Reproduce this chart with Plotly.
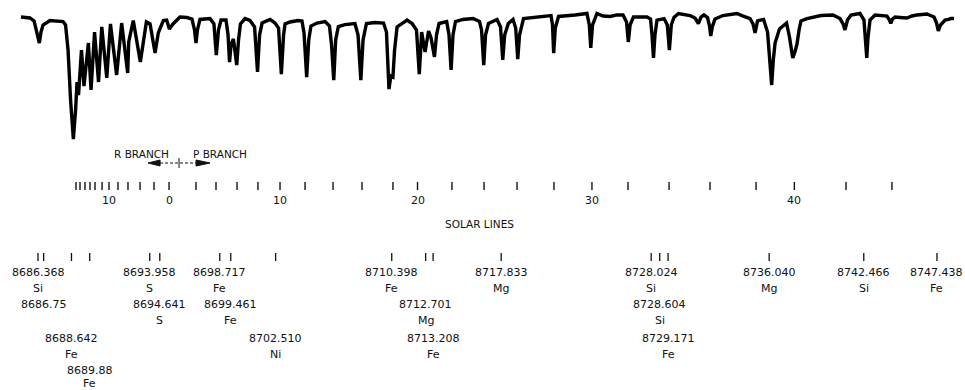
import plotly.graph_objects as go

# ---------------------------------------------------------------------------
# Tracing of the spectrum: wavelength (Å) and relative intensity
# ---------------------------------------------------------------------------
WAVELENGTH = [
    8685.21, 8685.82, 8686.10, 8686.30, 8686.46, 8686.57, 8686.71, 8687.18, 8687.66, 8688.07,
    8688.24, 8688.41, 8688.58, 8688.77, 8688.92, 8689.02, 8689.12, 8689.32, 8689.49, 8689.79,
    8689.97, 8690.21, 8690.48, 8690.70, 8691.04, 8691.29, 8691.71, 8692.05, 8692.46, 8692.53,
    8692.84, 8693.32, 8693.73, 8693.98, 8694.32, 8694.54, 8694.88, 8695.11, 8695.29, 8695.54,
    8696.01, 8696.49, 8696.83, 8697.00, 8697.10, 8697.20, 8697.37, 8698.05, 8698.32, 8698.48,
    8698.63, 8698.80, 8699.14, 8699.28, 8699.38, 8699.48, 8699.64, 8699.87, 8699.99, 8700.12,
    8700.43, 8700.77, 8701.08, 8701.28, 8701.42, 8701.59, 8702.13, 8702.47, 8702.71, 8702.90,
    8703.05, 8703.15, 8703.49, 8704.03, 8704.30, 8704.44, 8704.62, 8704.76, 8704.91, 8705.32,
    8705.87, 8706.17, 8706.31, 8706.46, 8706.59, 8706.77, 8707.22, 8707.90, 8708.11, 8708.30,
    8708.45, 8708.68, 8709.26, 8709.84, 8710.04, 8710.21, 8710.34, 8710.48, 8710.59, 8710.76,
    8711.44, 8711.78, 8712.08, 8712.27, 8712.43, 8712.66, 8712.90, 8713.07, 8713.30, 8713.44,
    8713.61, 8714.13, 8714.29, 8714.43, 8714.56, 8714.73, 8715.24, 8715.92, 8716.36, 8716.50,
    8716.65, 8716.77, 8716.97, 8717.55, 8717.79, 8717.94, 8718.07, 8718.32, 8718.64, 8718.82,
    8718.96, 8719.08, 8719.35, 8720.47, 8721.22, 8721.32, 8721.40, 8721.51, 8721.73, 8722.85,
    8723.66, 8723.82, 8723.92, 8724.04, 8724.34, 8724.75, 8725.23, 8725.70, 8726.11, 8726.35,
    8726.47, 8726.59, 8726.82, 8727.74, 8727.98, 8728.08, 8728.18, 8728.28, 8728.42, 8728.90,
    8729.12, 8729.26, 8729.39, 8729.57, 8729.88, 8730.66, 8731.00, 8731.23, 8731.41, 8731.61,
    8731.85, 8731.99, 8732.07, 8732.19, 8732.36, 8732.90, 8733.51, 8733.85, 8734.19, 8734.74,
    8734.94, 8735.08, 8735.25, 8735.66, 8735.93, 8736.06, 8736.21, 8736.32, 8736.44, 8736.74,
    8737.22, 8737.42, 8737.64, 8737.79, 8737.93, 8738.07, 8738.20, 8738.61, 8739.15, 8739.56,
    8740.38, 8740.85, 8741.06, 8741.19, 8741.36, 8741.60, 8742.21, 8742.48, 8742.57, 8742.67,
    8742.75, 8742.89, 8743.23, 8743.71, 8744.04, 8744.21, 8744.30, 8744.42, 8744.59, 8744.93,
    8745.40, 8745.74, 8746.08, 8746.76, 8747.24, 8747.41, 8747.53, 8747.68, 8747.78, 8747.99,
    8748.22, 8748.39, 8748.60,
]
INTENSITY = [
    0.953, 0.947, 0.927, 0.847, 0.780, 0.853, 0.900, 0.930, 0.927, 0.923,
    0.900, 0.733, 0.400, 0.140, 0.333, 0.520, 0.433, 0.733, 0.493, 0.780,
    0.467, 0.853, 0.520, 0.887, 0.547, 0.907, 0.567, 0.913, 0.580, 0.787,
    0.930, 0.653, 0.920, 0.907, 0.713, 0.847, 0.930, 0.933, 0.873, 0.907,
    0.953, 0.950, 0.940, 0.867, 0.780, 0.867, 0.937, 0.943, 0.907, 0.700,
    0.867, 0.933, 0.933, 0.833, 0.653, 0.767, 0.807, 0.633, 0.800, 0.907,
    0.943, 0.930, 0.887, 0.587, 0.833, 0.913, 0.937, 0.913, 0.880, 0.573,
    0.833, 0.907, 0.920, 0.930, 0.927, 0.847, 0.553, 0.800, 0.893, 0.913,
    0.923, 0.893, 0.767, 0.533, 0.800, 0.890, 0.903, 0.910, 0.833, 0.533,
    0.800, 0.910, 0.917, 0.913, 0.853, 0.473, 0.560, 0.553, 0.733, 0.887,
    0.933, 0.910, 0.867, 0.573, 0.853, 0.720, 0.860, 0.813, 0.687, 0.833,
    0.910, 0.923, 0.833, 0.600, 0.833, 0.923, 0.937, 0.943, 0.923, 0.867,
    0.633, 0.833, 0.910, 0.937, 0.887, 0.667, 0.833, 0.910, 0.937, 0.880,
    0.673, 0.833, 0.943, 0.957, 0.963, 0.900, 0.713, 0.880, 0.957, 0.967,
    0.977, 0.900, 0.747, 0.900, 0.977, 0.960, 0.957, 0.967, 0.967, 0.920,
    0.787, 0.900, 0.953, 0.953, 0.940, 0.833, 0.680, 0.833, 0.933, 0.943,
    0.900, 0.733, 0.900, 0.950, 0.977, 0.963, 0.947, 0.910, 0.953, 0.967,
    0.950, 0.893, 0.827, 0.893, 0.940, 0.963, 0.973, 0.977, 0.963, 0.943,
    0.907, 0.847, 0.927, 0.937, 0.853, 0.700, 0.500, 0.667, 0.780, 0.873,
    0.913, 0.820, 0.680, 0.720, 0.773, 0.867, 0.927, 0.943, 0.957, 0.963,
    0.967, 0.943, 0.907, 0.867, 0.933, 0.967, 0.977, 0.933, 0.813, 0.680,
    0.813, 0.933, 0.967, 0.963, 0.960, 0.933, 0.910, 0.940, 0.953, 0.950,
    0.947, 0.960, 0.967, 0.973, 0.953, 0.913, 0.860, 0.900, 0.913, 0.933,
    0.937, 0.943, 0.943,
]

# ---------------------------------------------------------------------------
# Rotational lines of the band (every second line is marked)
# ---------------------------------------------------------------------------
R_BRANCH_N = [22, 20, 18, 16, 14, 12, 10, 8, 6, 4, 2, 0]
R_BRANCH_WL = [8688.95, 8689.22, 8689.56, 8689.90, 8690.24, 8690.72,
               8691.19, 8691.80, 8692.48, 8693.30, 8694.25, 8695.27]
P_BRANCH_N = [2, 4, 6, 8, 10, 12, 14, 16, 18, 20, 22,
              24, 26, 28, 30, 32, 34, 36, 38, 40, 42, 44]
P_BRANCH_WL = [8697.10, 8698.46, 8699.89, 8701.31, 8702.81, 8704.51, 8706.41,
               8708.38, 8710.48, 8712.15, 8714.49, 8716.67, 8718.91, 8721.42,
               8724.00, 8726.45, 8729.24, 8732.02, 8735.15, 8737.75, 8741.26,
               8744.38]
R_BRANCH_NUMBERED = [10, 0]
P_BRANCH_NUMBERED = [10, 20, 30, 40]
BAND_ORIGIN = 8695.95

# ---------------------------------------------------------------------------
# Identified solar lines
# ---------------------------------------------------------------------------
SOLAR_LABELS = ["8686.368", "8686.75", "8688.642", "8689.88", "8693.958",
                "8694.641", "8698.717", "8699.461", "8702.510", "8710.398",
                "8712.701", "8713.208", "8717.833", "8728.024", "8728.604",
                "8729.171", "8736.040", "8742.466", "8747.438"]
SOLAR_ELEMENTS = ["Si", "", "Fe", "Fe", "S",
                  "S", "Fe", "Fe", "Ni", "Fe",
                  "Mg", "Fe", "Mg", "Si", "Si",
                  "Fe", "Mg", "Si", "Fe"]

# ---------------------------------------------------------------------------
# Layout
# ---------------------------------------------------------------------------
W, H = 965, 390
X_RANGE = [8683.786, 8749.343]
Y_RANGE = [-1.5333, 1.0667]
LABEL_TIER = [0, 1, 2, 3, 0, 1, 0, 1, 2, 0, 1, 2, 0, 0, 1, 2, 0, 0, 0]
TIER_PX = [272, 304, 338, 370]       # wavelength text rows
ELEMENT_PX = [288, 320, 354, 383]    # element text rows
FONT = "DejaVu Sans"
INK = "#111111"


def py(px):
    """Vertical pixel position -> paper fraction."""
    return 1 - px / H


def text(x, y, s, xref="x", size=11, xshift=0):
    return dict(x=x, y=y, xref=xref, yref="paper", text=s, showarrow=False,
                xanchor="center", yanchor="middle", xshift=xshift,
                font=dict(family=FONT, size=size, color=INK))


fig = go.Figure()
fig.add_trace(go.Scatter(
    x=WAVELENGTH, y=INTENSITY, mode="lines",
    line=dict(color="black", width=3.4),
    hoverinfo="skip", showlegend=False,
))

shapes = []
annotations = []

# band scale ticks and numbers
for numbers, wls, numbered in ((R_BRANCH_N, R_BRANCH_WL, R_BRANCH_NUMBERED),
                               (P_BRANCH_N, P_BRANCH_WL, P_BRANCH_NUMBERED)):
    for n, wl in zip(numbers, wls):
        shapes.append(dict(type="line", xref="x", yref="paper", x0=wl, x1=wl,
                           y0=py(190), y1=py(182), line=dict(color=INK, width=1.4)))
        if n in numbered:
            annotations.append(text(wl, py(201), str(n)))

annotations.append(text(0.4964, py(224), "SOLAR LINES", xref="paper", size=10.5))

# branch arrow around the band origin
ay = py(163)
arrow_common = dict(xref="x", yref="paper", xsizemode="pixel", ysizemode="pixel",
                    xanchor=BAND_ORIGIN, yanchor=ay)
shapes.append(dict(type="path", path="M -31 0 L -19 3 L -19 -3 Z",
                   fillcolor=INK, line=dict(color=INK, width=1), **arrow_common))
shapes.append(dict(type="path", path="M 31 0 L 17 3 L 17 -3 Z",
                   fillcolor=INK, line=dict(color=INK, width=1), **arrow_common))
shapes.append(dict(type="line", x0=-19, x1=17, y0=0, y1=0,
                   line=dict(color=INK, width=1, dash="3px,2px"), **arrow_common))
shapes.append(dict(type="line", x0=0, x1=0, y0=-5, y1=5,
                   line=dict(color=INK, width=1), **arrow_common))
annotations.append(text(BAND_ORIGIN, py(154), "R BRANCH", size=10.5, xshift=-37.5))
annotations.append(text(BAND_ORIGIN, py(154), "P BRANCH", size=10.5, xshift=41))

# solar line markers with wavelength and element
for label, element, tier in zip(SOLAR_LABELS, SOLAR_ELEMENTS, LABEL_TIER):
    wl = float(label)
    shapes.append(dict(type="line", xref="x", yref="paper", x0=wl, x1=wl,
                       y0=py(261), y1=py(253), line=dict(color=INK, width=1.3)))
    annotations.append(text(wl, py(TIER_PX[tier]), label))
    if element:
        annotations.append(text(wl, py(ELEMENT_PX[tier]), element))

fig.update_layout(
    width=W, height=H,
    margin=dict(l=0, r=0, t=0, b=0),
    paper_bgcolor="white", plot_bgcolor="white",
    xaxis=dict(range=X_RANGE, visible=False, fixedrange=True),
    yaxis=dict(range=Y_RANGE, visible=False, fixedrange=True),
    shapes=shapes, annotations=annotations,
    showlegend=False,
)

fig.write_html("out.html")
